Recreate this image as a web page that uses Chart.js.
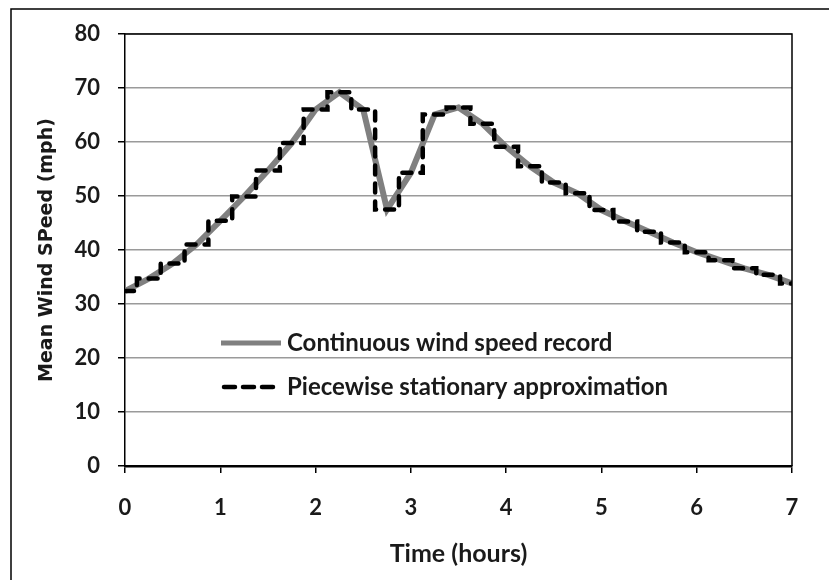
<!DOCTYPE html>
<html>
<head>
<meta charset="utf-8">
<script src="https://cdn.jsdelivr.net/npm/chart.js@4.4.0/dist/chart.umd.min.js"></script>
<style>
  body { margin: 0; background: #fff; }
  #wrap { width: 829px; height: 580px; }
</style>
</head>
<body>
<div id="wrap"><canvas id="windChart" width="829" height="580"></canvas></div>
<script>
// Sample times, every 15 minutes (hours)
const hours = [0, 0.25, 0.5, 0.75, 1, 1.25, 1.5, 1.75, 2, 2.25, 2.5, 2.75, 3, 3.25, 3.5,
               3.75, 4, 4.25, 4.5, 4.75, 5, 5.25, 5.5, 5.75, 6, 6.25, 6.5, 6.75, 7];
// Mean wind speed at each sample (mph)
const meanSpeed = [32.4, 34.7, 37.5, 41.0, 45.4, 49.9, 54.7, 59.8, 66.0, 69.2, 66.0, 47.5, 54.3, 65.1, 66.4,
                   63.4, 59.1, 55.5, 52.5, 50.5, 47.4, 45.3, 43.4, 41.4, 39.6, 38.1, 36.6, 35.4, 33.8];
const seriesNames = ['Continuous wind speed record', 'Piecewise stationary approximation'];
const xRange = [0, 7];   // hours, tick every 1
const yRange = [0, 80];  // mph, tick every 10

const labelFont = "Lato, 'Open Sans', sans-serif";
const textColor = '#1a1a1a';

const points = hours.map((h, i) => ({ x: h, y: meanSpeed[i] }));

// Draws the outer frame and the box round the plot area
const framePlugin = {
    id: 'frame',
    afterDraw(chart) {
        const ctx = chart.ctx;
        const a = chart.chartArea;
        ctx.save();
        ctx.strokeStyle = '#000';
        ctx.lineWidth = 1.5;
        ctx.beginPath();
        ctx.moveTo(a.left, a.top);
        ctx.lineTo(a.right, a.top);
        ctx.lineTo(a.right, a.bottom);
        ctx.stroke();
        // outer frame (top and left edges only are visible)
        ctx.beginPath();
        ctx.moveTo(11, chart.height);
        ctx.lineTo(11, 9);
        ctx.lineTo(chart.width, 9);
        ctx.stroke();
        ctx.restore();
    }
};

// Legend drawn inside the plot area, below the curves
const insideLegend = {
    id: 'insideLegend',
    afterDraw(chart) {
        const ctx = chart.ctx;
        const a = chart.chartArea;
        const x0 = a.left + 96;
        const rows = [a.top + 309, a.top + 353];
        const sampleLen = [60, 54];
        ctx.save();
        chart.data.datasets.forEach((ds, i) => {
            const y = rows[i];
            ctx.strokeStyle = ds.borderColor;
            ctx.lineWidth = i === 0 ? 5 : ds.borderWidth;
            ctx.lineCap = ds.borderCapStyle || 'butt';
            ctx.setLineDash(i === 0 ? [] : [11, 8]);
            ctx.beginPath();
            ctx.moveTo(x0 + (i === 0 ? 0 : 3), y);
            ctx.lineTo(x0 + sampleLen[i], y);
            ctx.stroke();
            ctx.setLineDash([]);
            ctx.fillStyle = textColor;
            ctx.font = 'bold 24px ' + labelFont;
            ctx.textBaseline = 'middle';
            ctx.textAlign = 'left';
            ctx.fillText(ds.label, x0 + 66, y);
        });
        ctx.restore();
    }
};

new Chart(document.getElementById('windChart'), {
    type: 'line',
    data: {
        datasets: [{
            label: seriesNames[0],
            data: points,
            borderColor: '#808080',
            borderWidth: 6,
            pointRadius: 0,
            tension: 0,
            order: 1   // drawn underneath
        }, {
            label: seriesNames[1],
            data: points,
            borderColor: '#000',
            borderWidth: 4.5,
            borderDash: [9, 9],
            borderCapStyle: 'round',
            pointRadius: 0,
            stepped: 'middle',
            order: 0
        }]
    },
    options: {
        responsive: false,
        animation: false,
        layout: { padding: { top: 34, right: 37, left: 0, bottom: 0 } },
        plugins: {
            legend: { display: false },
            tooltip: { enabled: false }
        },
        scales: {
            x: {
                type: 'linear',
                min: xRange[0],
                max: xRange[1],
                afterFit: (scale) => { scale.height = 114; },
                ticks: {
                    stepSize: 1,
                    padding: 22,
                    color: textColor,
                    font: { family: labelFont, size: 22, weight: 'bold' }
                },
                grid: {
                    drawOnChartArea: false,
                    tickLength: 7,
                    tickColor: '#000',
                    lineWidth: 1.5
                },
                border: { color: '#000', width: 2.5 },
                title: {
                    display: true,
                    text: 'Time (hours)',
                    color: textColor,
                    font: { family: labelFont, size: 25, weight: 'bold' },
                    padding: { top: 0, bottom: 11 }
                }
            },
            y: {
                min: yRange[0],
                max: yRange[1],
                afterFit: (scale) => { scale.width = 125; },
                ticks: {
                    stepSize: 10,
                    padding: 18,
                    color: textColor,
                    font: { family: labelFont, size: 22, weight: 'bold' }
                },
                grid: {
                    color: '#9a9a9a',
                    lineWidth: 1.5,
                    tickLength: 7,
                    tickColor: '#000'
                },
                border: { color: '#000', width: 1.5 },
                title: {
                    display: true,
                    text: 'Mean Wind SPeed (mph)',
                    color: textColor,
                    font: { family: "'DejaVu Sans', Verdana, sans-serif", size: 19, weight: 'bold' },
                    padding: { top: 36, bottom: 0 }
                }
            }
        }
    },
    plugins: [framePlugin, insideLegend]
});
</script>
</body>
</html>
